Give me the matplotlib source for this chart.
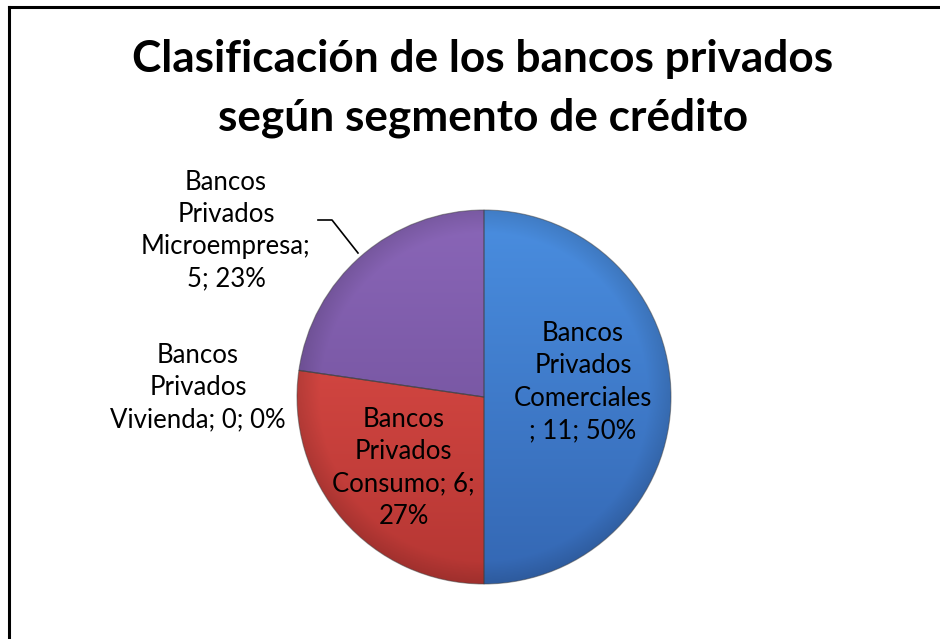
import numpy as np
import matplotlib
matplotlib.use("Agg")
import matplotlib.pyplot as plt
from matplotlib.lines import Line2D

plt.rcParams["font.family"] = ["Lato", "DejaVu Sans"]

TITLE_LINES = ["Clasificación de los bancos privados", "según segmento de crédito"]
CATEGORIES = ["Bancos Privados Comerciales", "Bancos Privados Consumo",
              "Bancos Privados Vivienda", "Bancos Privados Microempresa"]
VALUES = [11, 6, 0, 5]
# wrapped data labels as Excel shows them
LABELS = ["Bancos\nPrivados\nComerciales\n; 11; 50%",
          "Bancos\nPrivados\nConsumo; 6;\n27%",
          "Bancos\nPrivados\nVivienda; 0; 0%",
          "Bancos\nPrivados\nMicroempresa;\n5; 23%"]

# top / bottom shades of each slice
TOP_COLORS = ["#4a8ee0", "#e5504a", "#8a66b8", "#8a66b8"]
BOT_COLORS = ["#3467b3", "#b53633", "#6a4b92", "#6a4b92"]

W, H, DPI = 940, 639, 100
fig = plt.figure(figsize=(W / DPI, H / DPI), dpi=DPI)
fig.patch.set_facecolor("white")

# chart-area border (cropped at right and bottom)
fig.add_artist(Line2D([9 / W, 1], [1 - 7 / H, 1 - 7 / H], color="black", lw=2.2))
fig.add_artist(Line2D([9 / W, 9 / W], [0, 1 - 7 / H], color="black", lw=2.2))

for i, line in enumerate(TITLE_LINES):
    fig.text(483 / W, 1 - (72 + 58 * i) / H, line, ha="center", va="baseline",
             fontsize=31.8, fontweight="bold")

cx, cy, r = 484, 397, 187
ax = fig.add_axes([(cx - r) / W, (H - cy - r) / H, 2 * r / W, 2 * r / H])

wedges, _ = ax.pie(VALUES, startangle=90, counterclock=False, radius=1,
                   wedgeprops=dict(facecolor="none", edgecolor="#40404080", linewidth=0.8))
ax.set_aspect("equal")
ax.axis("off")

yy, xx = np.mgrid[1:-1:300j, -1:1:300j]
rr = np.sqrt(xx ** 2 + yy ** 2)
t = (1 - yy) / 2
rim = np.clip((rr - 0.88) / 0.12, 0, 1)
for w, top, bot in zip(wedges, TOP_COLORS, BOT_COLORS):
    c0 = np.array(matplotlib.colors.to_rgb(top))
    c1 = np.array(matplotlib.colors.to_rgb(bot))
    img = c0[None, None, :] * (1 - t[..., None]) + c1[None, None, :] * t[..., None]
    img = img * (1 - 0.12 * rim[..., None])
    im = ax.imshow(np.clip(img, 0, 1), extent=(-1, 1, -1, 1), zorder=1, interpolation="bilinear")
    im.set_clip_path(w)
    w.set_zorder(2)
ax.set_xlim(-1, 1)
ax.set_ylim(-1, 1)

# label anchors relative to pie radius
LABEL_POS = [(0.53, 0.08), (-0.43, -0.38), (-1.53, 0.05), (-1.38, 0.89)]
for (lx, ly), txt in zip(LABEL_POS, LABELS):
    ax.text(lx, ly, txt, ha="center", va="center", fontsize=18.5,
            linespacing=1.36, color="black", clip_on=False, zorder=5)

# leader line for the microempresa label
ax.add_line(Line2D([(318 - cx) / r, (332 - cx) / r, (358 - cx) / r],
                   [(cy - 220) / r, (cy - 220) / r, (cy - 253) / r],
                   color="black", lw=1.2, clip_on=False, zorder=5))

fig.savefig("out.png", dpi=DPI)
